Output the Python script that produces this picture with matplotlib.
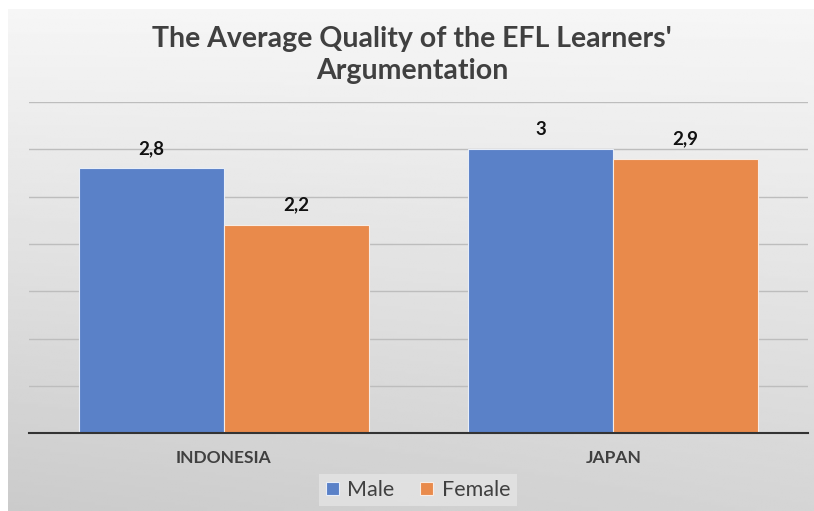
import numpy as np
import matplotlib
matplotlib.use("Agg")
import matplotlib.pyplot as plt

categories = ["INDONESIA", "JAPAN"]
series_names = ["Male", "Female"]
male = [2.8, 3.0]
female = [2.2, 2.9]
male_labels = ["2,8", "3"]
female_labels = ["2,2", "2,9"]
title = "The Average Quality of the EFL Learners'\nArgumentation"

W, H = 814, 511
fig = plt.figure(figsize=(W / 100, H / 100), dpi=100)
fig.patch.set_facecolor("white")

# background panel with gradient
bg = fig.add_axes([8 / W, 0, 1 - 8 / W, 1 - 9 / H], zorder=0)
yy, xx = np.mgrid[0:1:200j, 0:1:200j]
val = 0.965 - 0.13 * yy - 0.04 * (1 - xx) * yy
bg.imshow(val, cmap="gray", vmin=0, vmax=1, aspect="auto", extent=[0, 1, 0, 1], origin="upper")
bg.set_axis_off()

ax = fig.add_axes([29 / W, (H - 433.3) / H, (808 - 29) / W, (433.3 - 102) / H], zorder=1)
ax.patch.set_alpha(0)
x = np.arange(len(categories))
w = 0.372
blue = "#5a81c8"
orange = "#e98a4b"
b1 = ax.bar(x - w / 2, male, w, color=blue, edgecolor="#e8eef8", linewidth=0.8, label=series_names[0], zorder=3)
b2 = ax.bar(x + w / 2, female, w, color=orange, edgecolor="#f8ece4", linewidth=0.8, label=series_names[1], zorder=3)

for bars, labs in ((b1, male_labels), (b2, female_labels)):
    for r, lab in zip(bars, labs):
        ax.text(r.get_x() + r.get_width() / 2, r.get_height() + 0.12, lab, ha="center", va="bottom",
                fontsize=13.5, fontweight="bold", family="Lato", color="#111111", zorder=4)

ax.set_xlim(-0.5, 1.5)
ax.set_ylim(0, 3.5)
ax.set_yticks(np.arange(0.5, 3.51, 0.5))
ax.yaxis.grid(True, color="#bdbdbd", linewidth=1)
ax.set_axisbelow(True)
ax.tick_params(axis="y", length=0, labelleft=False)
ax.tick_params(axis="x", length=0, pad=12)
ax.set_xticks(x)
ax.set_xticklabels(categories, fontsize=12.5, fontweight="bold", family="Lato", color="#404040")
for s in ["top", "right", "left"]:
    ax.spines[s].set_visible(False)
ax.spines["bottom"].set_color("#333333")
ax.spines["bottom"].set_linewidth(1.5)
ax.spines["bottom"].set_zorder(5)

fig.text(412 / W, 1 - 55 / H, title, ha="center", va="center", fontsize=20.5, fontweight="bold",
         family="Lato", color="#404040", linespacing=1.3)

leg = fig.legend(handles=[b1, b2], labels=series_names, loc="center", bbox_to_anchor=(418 / W, 1 - 490 / H),
                 ncol=2, frameon=True, prop={"family": "Lato", "size": 15.5},
                 handlelength=0.6, handleheight=0.6, handletextpad=0.4, columnspacing=1.2,
                 borderpad=0.3, fancybox=False)
leg.get_frame().set_facecolor("#e4e4e4")
leg.get_frame().set_edgecolor("none")
for t in leg.get_texts():
    t.set_color("#404040")

fig.savefig("out.png", dpi=100)
